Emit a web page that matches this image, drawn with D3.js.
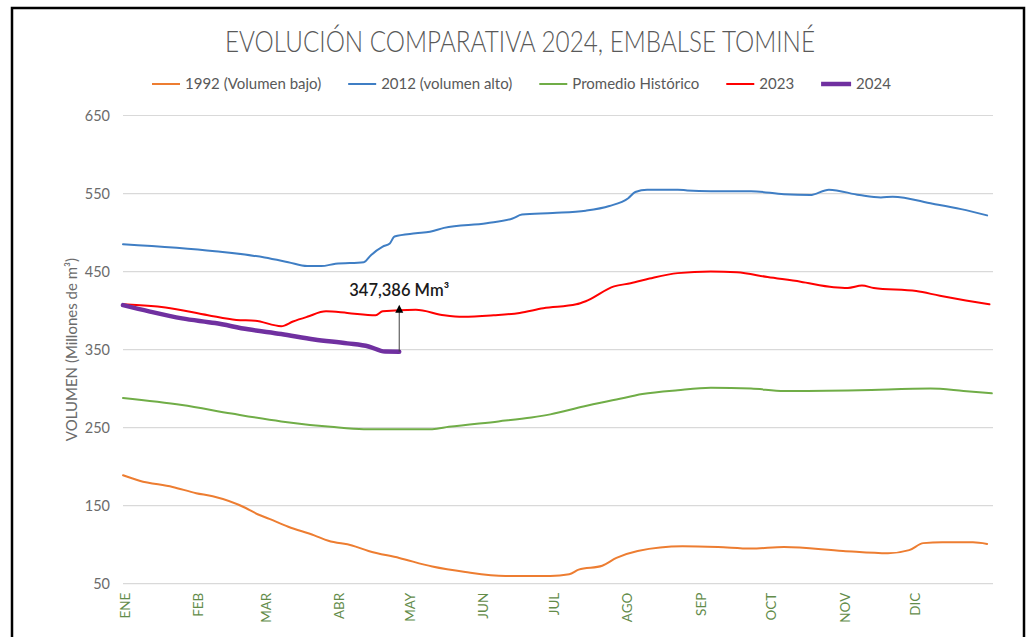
<!DOCTYPE html>
<html>
<head>
<meta charset="utf-8">
<script src="https://cdn.jsdelivr.net/npm/d3@7"></script>
<style>
  html, body { margin: 0; padding: 0; background: #fff; }
  svg { display: block; }
  text { font-family: Lato, "Open Sans", "DejaVu Sans", sans-serif; }
</style>
</head>
<body>
<svg id="chart" width="1031" height="637"></svg>
<script>
// ---------------- DATA ----------------
const monthLabels = ["ENE","FEB","MAR","ABR","MAY","JUN","JUL","AGO","SEP","OCT","NOV","DIC"];
const monthStartDays = [0,31,60,91,121,152,182,213,244,274,305,335];
const yTicks = [50,150,250,350,450,550,650];

const days1992 = [0,7,21,31,38,52,57,62,70,81,87,97,104,117,131,145,162,173,181,189,193,203,209,218,237,252,266,280,305,324,333,339,347,360,366];
const vol1992  = [189,182,174,166,162,147,139,133,123,112,105,99,92,83,72,65,60,60,60,62,68,73,83,92,98,97,95,97,92,89,93,102,103,103,101];

const days2012 = [0,39,60,70,78,84,90,102,105,110,113,115,124,130,136,154,165,169,182,196,206,214,217,222,235,239,249,266,280,291,299,312,321,326,343,355,366];
const vol2012  = [485,476,468,462,457,457,460,462,471,482,486,495,499,501,506,512,518,523,525,528,534,544,552,555,555,554,553,553,549,548,555,548,545,546,537,530,522];

const daysProm = [0,25,46,67,88,102,131,138,159,173,181,195,209,220,235,249,266,280,312,342,356,368];
const volProm  = [288,279,268,258,251,248,248,251,258,263,267,277,286,293,298,301,300,297,298,300,297,294];

const days2023 = [0,18,36,48,56,67,72,78,86,95,107,110,124,136,144,157,168,178,192,196,208,215,223,235,249,260,273,287,301,307,313,318,336,346,357,367];
const vol2023  = [408,404,394,388,387,380,386,392,399,397,394,399,401,394,392,394,397,403,408,412,431,435,441,448,450,449,443,437,430,429,432,429,425,419,413,408];

const days2024 = [0,11,25,39,53,67,81,95,104,111,117];
const vol2024  = [407,399,390,384,376,370,363,358,354,347.5,347.386];

const seriesNames = ["1992 (Volumen bajo)","2012 (volumen alto)","Promedio Histórico","2023","2024"];
const annotationText = "347,386 Mm³";

// ---------------- CHART ----------------
const series = [
  {name: seriesNames[0], days: days1992, vals: vol1992, color: "#ED7D31", width: 2},
  {name: seriesNames[1], days: days2012, vals: vol2012, color: "#3F7EC4", width: 2},
  {name: seriesNames[2], days: daysProm, vals: volProm, color: "#70AD47", width: 2},
  {name: seriesNames[3], days: days2023, vals: vol2023, color: "#FF0000", width: 2},
  {name: seriesNames[4], days: days2024, vals: vol2024, color: "#7030A0", width: 4.5}
];

const svg = d3.select("#chart");
const pLeft = 123, pRight = 993, pTop = 115.5, pBottom = 583.7;

const x = d3.scaleLinear().domain([0, 368.5]).range([pLeft, pRight]);
const y = d3.scaleLinear().domain([50, 650]).range([pBottom, pTop]);

// frame
svg.append("rect").attr("x", 12).attr("y", 8).attr("width", 1012).attr("height", 650)
  .attr("fill", "none").attr("stroke", "#000").attr("stroke-width", 2.5);

// title
svg.append("text").attr("x", 520).attr("y", 52).attr("text-anchor", "middle")
  .attr("font-size", 30).attr("font-weight", 300).attr("fill", "#595959")
  .attr("textLength", 590).attr("lengthAdjust", "spacingAndGlyphs")
  .text("EVOLUCIÓN COMPARATIVA 2024, EMBALSE TOMINÉ");

// gridlines
svg.append("g").selectAll("line").data(yTicks).join("line")
  .attr("x1", pLeft).attr("x2", pRight)
  .attr("y1", d => y(d)).attr("y2", d => y(d))
  .attr("stroke", "#d9d9d9").attr("stroke-width", 1.2);

// y axis
const yAxis = svg.append("g").attr("transform", `translate(${pLeft},0)`)
  .call(d3.axisLeft(y).tickValues(yTicks).tickSize(0).tickPadding(13));
yAxis.select(".domain").remove();
yAxis.selectAll("text").attr("font-size", 14.5).attr("fill", "#6b6b6b")
  .style("font-family", "Lato, 'Open Sans', sans-serif");

// y title
svg.append("text").attr("transform", `translate(77,${(pTop+pBottom)/2}) rotate(-90)`)
  .attr("text-anchor", "middle").attr("font-size", 15).attr("fill", "#6b6b6b")
  .text("VOLUMEN (Millones de m³)");

// x axis
const xAxis = svg.append("g").attr("transform", `translate(0,${pBottom})`)
  .call(d3.axisBottom(x).tickValues(monthStartDays).tickFormat((d,i) => monthLabels[i]).tickSize(0));
xAxis.select(".domain").remove();
xAxis.selectAll("text")
  .attr("x", 0).attr("y", 0).attr("dy", "0.45em")
  .attr("transform", "translate(0,9) rotate(-90)")
  .attr("text-anchor", "end").attr("font-size", 13.5).attr("fill", "#638C4A")
  .style("font-family", "Lato, 'Open Sans', sans-serif");

// lines
const line = d3.line().curve(d3.curveMonotoneX).x(d => x(d[0])).y(d => y(d[1]));
svg.append("g").selectAll("path").data(series).join("path")
  .attr("d", s => line(s.days.map((d,i) => [d, s.vals[i]])))
  .attr("fill", "none").attr("stroke", s => s.color).attr("stroke-width", s => s.width)
  .attr("stroke-linejoin", "round").attr("stroke-linecap", "round");

// legend
const legend = svg.append("g");
let lx = 152;
series.forEach(s => {
  const g = legend.append("g");
  const lw = s.width > 3 ? 30 : 28;
  g.append("line").attr("x1", lx).attr("x2", lx + lw).attr("y1", 84).attr("y2", 84)
    .attr("stroke", s.color).attr("stroke-width", s.width > 3 ? 4.5 : 2);
  const t = g.append("text").attr("x", lx + lw + 5).attr("y", 84).attr("dy", "0.35em")
    .attr("font-size", 15).attr("fill", "#595959").text(s.name);
  lx = lx + lw + 5 + t.node().getComputedTextLength() + 27;
});

// annotation
const lastIdx = days2024.length - 1;
const ax = x(days2024[lastIdx]), ay = y(vol2024[lastIdx]);
const tipY = ay - 47;
svg.append("line").attr("x1", ax).attr("x2", ax).attr("y1", ay).attr("y2", tipY + 6)
  .attr("stroke", "#404040").attr("stroke-width", 1);
svg.append("path").attr("d", `M${ax},${tipY} L${ax-4},${tipY+8} L${ax+4},${tipY+8} Z`).attr("fill", "#000");
svg.append("text").attr("x", ax).attr("y", tipY - 9).attr("text-anchor", "middle")
  .attr("font-size", 16.5).attr("font-weight", 600).attr("fill", "#1a1a1a").text(annotationText);
</script>
</body>
</html>
